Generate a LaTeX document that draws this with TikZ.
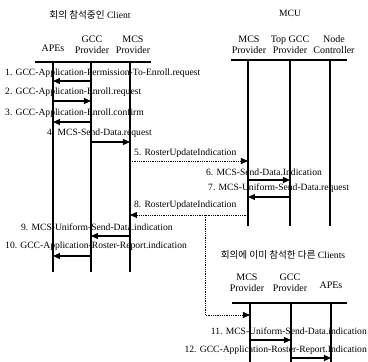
\documentclass[tikz,border=0pt]{standalone}
\usepackage{fontspec}
\setmainfont{Liberation Serif}
\newfontfamily\kor{Noto Sans CJK KR}
\usetikzlibrary{arrows.meta}

\begin{document}
\begin{tikzpicture}[x=1pt,y=-1pt,
  txt/.style={font=\fontsize{9.6}{10.5}\selectfont,inner sep=0pt},
  lbl/.style={txt,anchor=west},
  hd/.style={txt,align=center,font=\fontsize{10}{11}\selectfont},
  life/.style={line width=1.1pt},
  msg/.style={line width=1.1pt,-{Triangle[length=7pt,width=6pt]}},
  dmsg/.style={densely dotted,line width=0.8pt,-{Triangle[length=7pt,width=6pt]}}]
  \useasboundingbox (0,0) rectangle (368,362);
  % titles
  \node[txt] (tC) at (90,15) {{\kor 회의 참석중인} Client};
  \node[txt] (tM) at (290,13) {MCU};
  \node[txt] (tO) at (283,255) {{\kor 회의에 이미 참석한 다른} Clients};
  % Client heads
  \node[hd] (hApeC) at (53,48) {APEs};
  \node[hd] (hGccC) at (92,45) {GCC\\Provider};
  \node[hd] (hMcsC) at (133,45) {MCS\\Provider};
  \draw[line width=1.2pt] (35,62) -- (151,62);
  \coordinate (apeC) at (53,62);
  \coordinate (gccC) at (91,62);
  \coordinate (mcsC) at (130,62);
  \draw[life] (apeC) -- ++(0,210);
  \draw[life] (gccC) -- ++(0,210);
  \draw[life] (mcsC) -- ++(0,210);
  % MCU heads
  \node[hd] (hMcsM) at (249,45) {MCS\\Provider};
  \node[hd] (hTopM) at (290,45) {Top GCC\\Provider};
  \node[hd] (hNcM) at (334,45) {Node\\Controller};
  \draw[line width=1.2pt] (231,60) -- (347,60);
  \coordinate (mcsM) at (248,60);
  \coordinate (topM) at (290,60);
  \coordinate (ncM) at (330,60);
  \draw[life] (mcsM) -- ++(0,166);
  \draw[life] (topM) -- ++(0,166);
  \draw[life] (ncM) -- ++(0,166);
  % other clients heads
  \node[hd] (hMcsO) at (247,283) {MCS\\Provider};
  \node[hd] (hGccO) at (290,283) {GCC\\Provider};
  \node[hd] (hApeO) at (331,285) {APEs};
  \draw[line width=1.2pt] (232,303) -- (347,303);
  \coordinate (mcsO) at (250,303);
  \coordinate (gccO) at (291,303);
  \coordinate (apeO) at (331,303);
  \draw[life] (mcsO) -- ++(0,59);
  \draw[life] (gccO) -- ++(0,59);
  \draw[life] (apeO) -- ++(0,59);
  % messages
  \node[lbl] (m1) at (5,73) {1. GCC-Application-Permission-To-Enroll.request};
  \draw[msg] (gccC |- 0,81) -- (apeC |- 0,81);
  \node[lbl] (m2) at (5,92) {2. GCC-Application-Enroll.request};
  \draw[msg] (apeC |- 0,101) -- (gccC |- 0,101);
  \node[lbl] (m3) at (5,113) {3. GCC-Application-Enroll.confirm};
  \draw[msg] (gccC |- 0,122) -- (apeC |- 0,122);
  \node[lbl] (m4) at (47,133) {4. MCS-Send-Data.request};
  \draw[msg] (gccC |- 0,142) -- (mcsC |- 0,142);
  \node[lbl] (m5) at (134,153) {5. RosterUpdateIndication};
  \draw[dmsg] (mcsC |- 0,161) -- (mcsM |- 0,161);
  \node[lbl] (m6) at (206,172) {6. MCS-Send-Data.Indication};
  \draw[msg] (mcsM |- 0,180) -- (topM |- 0,180);
  \node[lbl] (m7) at (208,188) {7. MCS-Uniform-Send-Data.request};
  \draw[msg] (topM |- 0,197) -- (mcsM |- 0,197);
  \node[lbl] (m8) at (134,205) {8. RosterUpdateIndication};
  \draw[dmsg] (mcsM |- 0,215) -- (mcsC |- 0,215);
  \coordinate (fork) at (205,215);
  \draw[dmsg] (fork) |- (mcsO |- 0,315);
  \node[lbl] (m9) at (21,227) {9. MCS-Uniform-Send-Data.indication};
  \draw[msg] (mcsC |- 0,236) -- (gccC |- 0,236);
  \node[lbl] (m10) at (5,246) {10. GCC-Application-Roster-Report.indication};
  \draw[msg] (gccC |- 0,256) -- (apeC |- 0,256);
  \node[lbl,anchor=east] (m11) at (367,331) {11. MCS-Uniform-Send-Data.indication};
  \draw[msg] (mcsO |- 0,340) -- (gccO |- 0,340);
  \node[lbl,anchor=east] (m12) at (367,350) {12. GCC-Application-Roster-Report.Indication};
  \draw[msg] (gccO |- 0,358) -- (apeO |- 0,358);
\end{tikzpicture}
\end{document}
